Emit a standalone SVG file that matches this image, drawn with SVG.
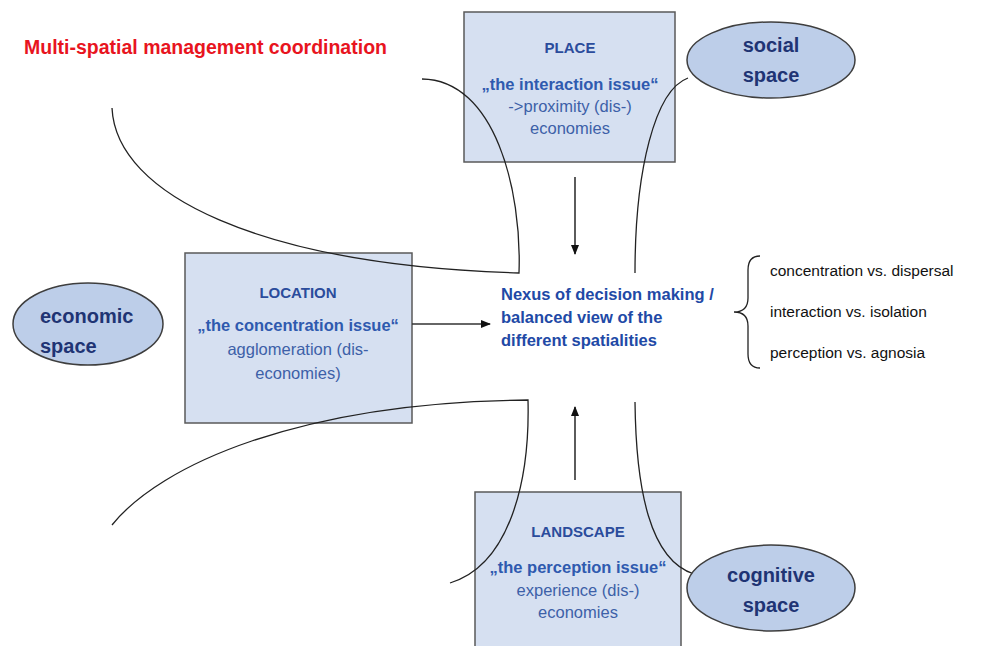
<svg xmlns="http://www.w3.org/2000/svg" width="989" height="646" viewBox="0 0 989 646">
<defs>
<marker id="ah" markerWidth="10" markerHeight="8" refX="9" refY="4" orient="auto" markerUnits="userSpaceOnUse">
<path d="M0,0 L10,4 L0,8 Z" fill="#111"/>
</marker>
</defs>
<style>
text{font-family:"Liberation Sans",Arial,sans-serif}
.box{fill:#D6E0F1;stroke:#5A5A5A;stroke-width:1.5}
.ell{fill:#BDCEE9;stroke:#3E3E3E;stroke-width:1.5}
.ttl{font-size:15px;font-weight:bold;fill:#2B4C9C;text-anchor:middle}
.iss{font-size:16.5px;font-weight:bold;fill:#2F5AAF;text-anchor:middle}
.reg{font-size:16.5px;fill:#3D60A8;text-anchor:middle}
.sp{font-size:20px;font-weight:bold;fill:#1F3474}
.nex{font-size:16.5px;font-weight:bold;fill:#2149A6}
.rt{font-size:15.5px;fill:#111}
.cur{fill:none;stroke:#222;stroke-width:1.3}
.arr{fill:none;stroke:#333;stroke-width:1.6}
</style>
<rect width="989" height="646" fill="#fff"/>
<text x="24" y="54" font-size="19.5" font-weight="bold" fill="#E8141E">Multi-spatial management coordination</text>
<g id="place">
<rect class="box" x="464" y="12" width="211" height="150"/>
<text class="ttl" x="570" y="53">PLACE</text>
<text class="iss" x="570" y="90">„the interaction issue“</text>
<text class="reg" x="570" y="112">-&gt;proximity (dis-)</text>
<text class="reg" x="570" y="134">economies</text>
</g>
<g id="location">
<rect class="box" x="185" y="253" width="227" height="170"/>
<text class="ttl" x="298" y="298">LOCATION</text>
<text class="iss" x="298" y="331">„the concentration issue“</text>
<text class="reg" x="298" y="355">agglomeration (dis-</text>
<text class="reg" x="298" y="379">economies)</text>
</g>
<g id="landscape">
<rect class="box" x="475" y="492" width="206" height="160"/>
<text class="ttl" x="578" y="537">LANDSCAPE</text>
<text class="iss" x="578" y="573">„the perception issue“</text>
<text class="reg" x="578" y="596">experience (dis-)</text>
<text class="reg" x="578" y="618">economies</text>
</g>
<g id="nexus">
<text class="nex" x="501" y="300">Nexus of decision making /</text>
<text class="nex" x="501" y="323">balanced view of the</text>
<text class="nex" x="501" y="346">different spatialities</text>
</g>
<g id="tensions">
<text class="rt" x="770" y="276">concentration vs. dispersal</text>
<text class="rt" x="770" y="317">interaction vs. isolation</text>
<text class="rt" x="770" y="358">perception vs. agnosia</text>
</g>
<g id="connectors">
<path class="cur" d="M112,108 C116,195 260,265 519,273 C522,190 495,80 422,79"/>
<path class="cur" d="M112,525 C160,465 300,402 528,400 C530,480 510,565 450,583"/>
<path class="cur" d="M688,78 C655,90 635,170 635,273"/>
<path class="cur" d="M635,402 C636,490 650,560 694,574"/>
<line class="arr" x1="575" y1="177" x2="575" y2="254" marker-end="url(#ah)"/>
<line class="arr" x1="575" y1="480" x2="575" y2="407" marker-end="url(#ah)"/>
<line class="arr" x1="412" y1="324" x2="490" y2="324" marker-end="url(#ah)"/>
<path class="cur" d="M760,256 Q748,256 748,270 L748,298 Q748,312 734,312 Q748,312 748,326 L748,354 Q748,368 760,368"/>
</g>
<g id="social">
<ellipse class="ell" cx="771" cy="60" rx="84" ry="38"/>
<text class="sp" x="771" y="52" text-anchor="middle">social</text>
<text class="sp" x="771" y="82" text-anchor="middle">space</text>
</g>
<g id="economic">
<ellipse class="ell" cx="88" cy="324" rx="75" ry="41"/>
<text class="sp" x="40" y="323">economic</text>
<text class="sp" x="40" y="353">space</text>
</g>
<g id="cognitive">
<ellipse class="ell" cx="771" cy="588" rx="84" ry="43"/>
<text class="sp" x="771" y="582" text-anchor="middle">cognitive</text>
<text class="sp" x="771" y="612" text-anchor="middle">space</text>
</g>
</svg>
